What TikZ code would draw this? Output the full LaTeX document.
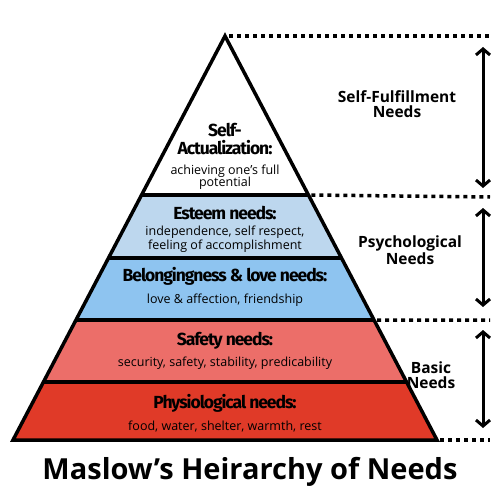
\documentclass[tikz,border=0pt]{standalone}
\usepackage{fontspec}
\setmainfont{Open Sans}
\newfontfamily\headfont[LetterSpace=-6]{Fira Sans}
\usetikzlibrary{calc,arrows.meta}

\definecolor{esteemblue}{HTML}{BDD7EE}
\definecolor{lovecblue}{HTML}{8EC4F0}
\definecolor{safetyred}{HTML}{EC6E69}
\definecolor{physred}{HTML}{E03A28}

\begin{document}
\begin{tikzpicture}[x=1pt,y=-1pt,
head/.style={font=\headfont\bfseries\fontsize{17.5}{18}\selectfont,inner sep=0pt,align=center},
sub/.style={font=\fontsize{12.5}{12.5}\selectfont,inner sep=0pt,align=center},
side/.style={font=\bfseries\fontsize{15.5}{15}\selectfont,inner sep=0pt,align=center},
layer/.style={line width=3.5pt},
guide/.style={line width=3.5pt,dash pattern=on 4pt off 4pt},
span/.style={line width=3pt,{Straight Barb[length=6pt,width=14pt,line width=3pt]}-{Straight Barb[length=6pt,width=14pt,line width=3pt]}}]
\useasboundingbox (0,0) rectangle (500,500);
\coordinate (top) at (225,36);
\coordinate (bl) at (13,440);
\coordinate (br) at (437,440);
\coordinate (l1) at ($(top)!0.3936!(bl)$);
\coordinate (r1) at ($(top)!0.3936!(br)$);
\coordinate (l2) at ($(top)!0.5495!(bl)$);
\coordinate (r2) at ($(top)!0.5495!(br)$);
\coordinate (l3) at ($(top)!0.7030!(bl)$);
\coordinate (r3) at ($(top)!0.7030!(br)$);
\coordinate (l4) at ($(top)!0.8564!(bl)$);
\coordinate (r4) at ($(top)!0.8564!(br)$);

\fill[white] (top) -- (r1) -- (l1) -- cycle;
\fill[esteemblue] (l1) -- (r1) -- (r2) -- (l2) -- cycle;
\fill[lovecblue] (l2) -- (r2) -- (r3) -- (l3) -- cycle;
\fill[safetyred] (l3) -- (r3) -- (r4) -- (l4) -- cycle;
\fill[physred] (l4) -- (r4) -- (br) -- (bl) -- cycle;
\draw[layer] (l1) -- (r1) (l2) -- (r2) (l3) -- (r3) (l4) -- (r4);
\draw[layer] (top) -- (br) -- (bl) -- cycle;

\draw[guide] ([xshift=4pt]top) -- (490,36);
\draw[guide] ([xshift=3pt]r1) -- (490,197);
\draw[guide] ([xshift=3pt]r3) -- (490,320);
\draw[guide] ([xshift=3pt]br) -- (490,440);

\coordinate (s1) at (483,47);
\coordinate (e1) at (483,188);
\coordinate (s2) at (483,208);
\coordinate (e2) at (483,307);
\coordinate (s3) at (483,330);
\coordinate (e3) at (483,428);
\draw[span] (s1) -- (e1);
\draw[span] (s2) -- (e2);
\draw[span] (s3) -- (e3);

\node[head] (selfhead) at (225,139) {Self-\\Actualization:};
\node[sub] (selfsub) at (225,177) {achieving one’s full\\potential};
\node[head] (esteemhead) at (225,213) {Esteem needs:};
\node[sub] (esteemsub) at (225,239) {independence, self respect,\\feeling of accomplishment};
\node[head] (lovehead) at (225,276) {Belongingness \& love needs:};
\node[sub] (lovesub) at (225,300) {love \& affection, friendship};
\node[head] (safetyhead) at (225,341) {Safety needs:};
\node[sub] (safetysub) at (225,363) {security, safety, stability, predicability};
\node[head] (physhead) at (225,403) {Physiological needs:};
\node[sub] (physsub) at (225,427) {food, water, shelter, warmth, rest};

\node[side] (fulfil) at (397,104) {Self-Fulfillment\\Needs};
\node[side] (psych) at (410,250) {Psychological\\Needs};
\node[side] (basic) at (431,375) {Basic\\Needs};

\node[font=\bfseries\fontsize{29}{30}\selectfont,inner sep=0pt] (title) at (250,472) {Maslow’s Heirarchy of Needs};
\end{tikzpicture}
\end{document}
